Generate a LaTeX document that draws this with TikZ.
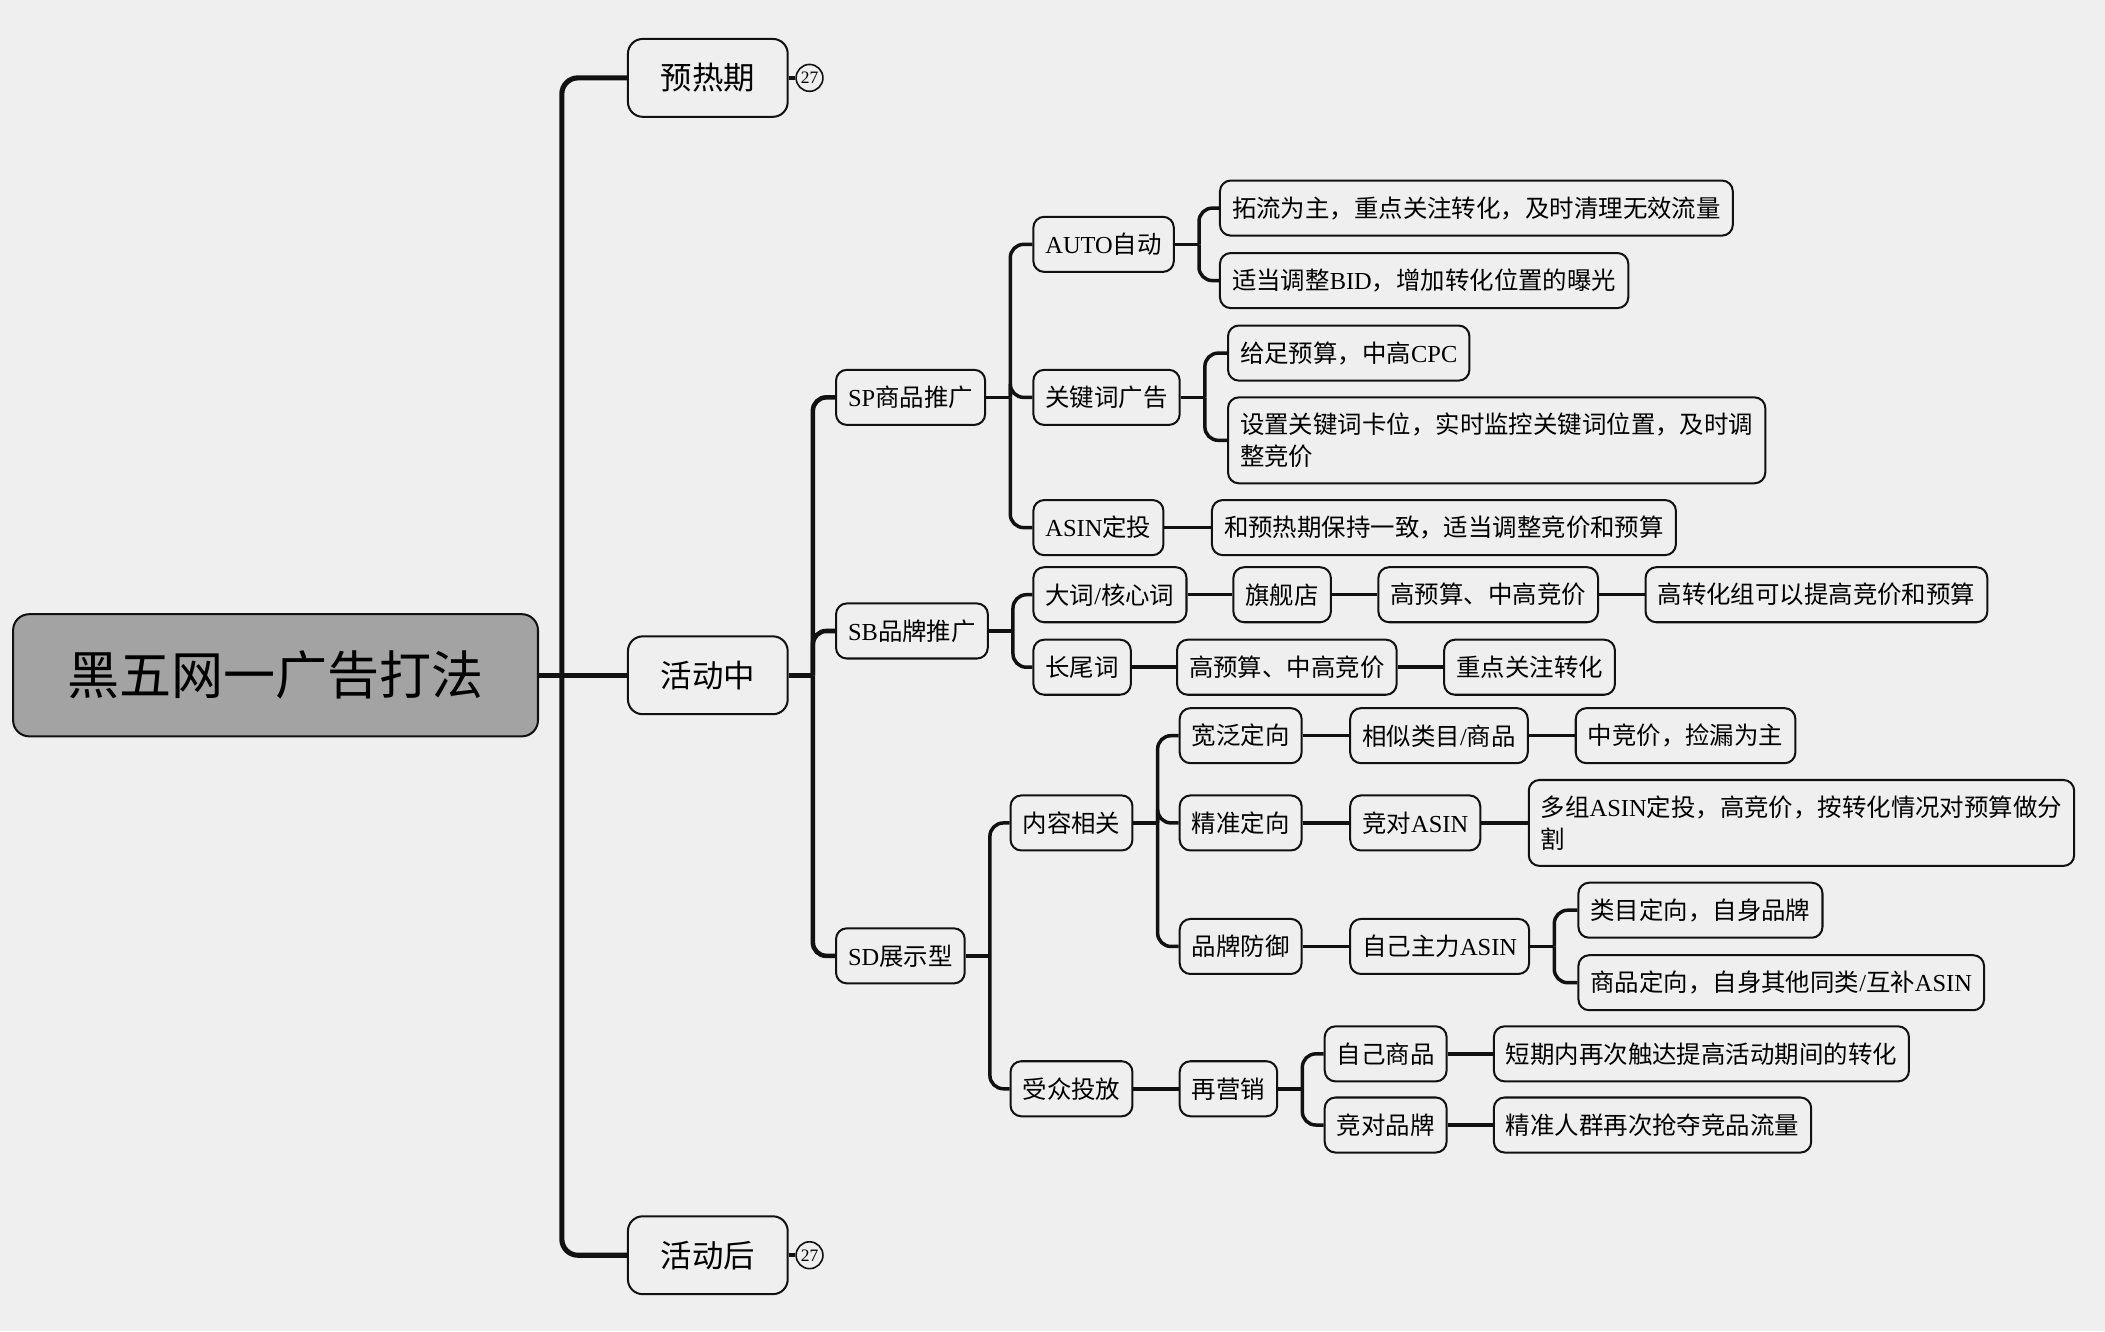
\documentclass[tikz,border=0pt]{standalone}
\usepackage{fontspec}
\setmainfont{Noto Sans CJK SC}
\newfontfamily\lt{Liberation Serif}
\definecolor{bg}{HTML}{EFEFEF}
\definecolor{rootfill}{HTML}{A3A3A3}
\definecolor{edge}{HTML}{111111}
\newcommand\fork[3]{%
  \draw[#1] (#2.east) -- ++(9pt,0) coordinate (#2-t);
  \foreach \c in {#3} {\draw[#1,rounded corners=5pt] (#2-t) |- (\c.west);}
}
\begin{document}
\begin{tikzpicture}[x=0.5pt,y=-0.5pt,
  box/.style={draw=edge, line width=0.75pt, fill=bg, rounded corners=4pt,
    font=\fontsize{9.1}{12}\selectfont, minimum height=20.5pt,
    inner xsep=4.5pt, inner ysep=2pt, anchor=west},
  lvone/.style={box, rounded corners=5.5pt, font=\fontsize{11.7}{14}\selectfont,
    minimum height=29pt, minimum width=59.5pt},
  two/.style={box, align=left, minimum height=32pt},
  badge/.style={circle, draw=edge, line width=0.6pt, fill=bg, minimum size=10pt,
    inner sep=0pt, font=\lt\fontsize{6.5}{7}\selectfont},
  ca/.style={draw=edge, line width=1.9pt},
  cb/.style={draw=edge, line width=1.7pt},
  cc/.style={draw=edge, line width=1.3pt}]
\fill[bg] (0,0) rectangle (1568,991.5);
\useasboundingbox (0,0) rectangle (1568,991.5);

% connectors first (drawn beneath nodes)
\coordinate (root-e) at (400,503);

% root and level 1
\node[box, fill=rootfill, rounded corners=6pt, minimum width=195.5pt, minimum height=45.5pt,
  font=\fontsize{19.4}{22}\selectfont] (root) at (9,503) {黑五网一广告打法};
\node[lvone] (pre) at (467,58) {预热期};
\node[lvone] (mid) at (467,503) {活动中};
\node[lvone] (post) at (467,935) {活动后};
\node[badge] (b1) at (603,58) {27};
\node[badge] (b2) at (603,935) {27};

% level 2
\node[box] (sp) at (622,296) {{\lt SP}商品推广};
\node[box] (sb) at (622,470) {{\lt SB}品牌推广};
\node[box] (sd) at (622,712) {{\lt SD}展示型};

% SP
\node[box] (auto) at (769,182) {{\lt AUTO}自动};
\node[box] (kw) at (769,296) {关键词广告};
\node[box] (asin) at (769,393) {{\lt ASIN}定投};
\node[box] (a1) at (908,155) {拓流为主，重点关注转化，及时清理无效流量};
\node[box] (a2) at (908,209) {适当调整{\lt BID}，增加转化位置的曝光};
\node[box] (k1) at (914,263) {给足预算，中高{\lt CPC}};
\node[two] (k2) at (914,328) {设置关键词卡位，实时监控关键词位置，及时调\\整竞价};
\node[box] (as1) at (902,393) {和预热期保持一致，适当调整竞价和预算};

% SB
\node[box] (bigw) at (769,443) {大词{\lt /}核心词};
\node[box] (flag) at (918,443) {旗舰店};
\node[box] (hba) at (1026,443) {高预算、中高竞价};
\node[box] (hc) at (1225,443) {高转化组可以提高竞价和预算};
\node[box] (longw) at (769,497) {长尾词};
\node[box] (hbb) at (876,497) {高预算、中高竞价};
\node[box] (focus) at (1075,497) {重点关注转化};

% SD
\node[box] (cont) at (752,613) {内容相关};
\node[box] (wide) at (878,548) {宽泛定向};
\node[box] (sim) at (1005,548) {相似类目{\lt /}商品};
\node[box] (midp) at (1173,548) {中竞价，捡漏为主};
\node[box] (prec) at (878,613) {精准定向};
\node[box] (comp) at (1005,613) {竞对{\lt ASIN}};
\node[two] (multi) at (1138,613) {多组{\lt ASIN}定投，高竞价，按转化情况对预算做分\\割};
\node[box] (brand) at (878,705) {品牌防御};
\node[box] (own) at (1005,705) {自己主力{\lt ASIN}};
\node[box] (o1) at (1175,678) {类目定向，自身品牌};
\node[box] (o2) at (1175,732) {商品定向，自身其他同类{\lt /}互补{\lt ASIN}};
\node[box] (aud) at (752,811) {受众投放};
\node[box] (remk) at (878,811) {再营销};
\node[box] (self) at (986,785) {自己商品};
\node[box] (rival) at (986,838) {竞对品牌};
\node[box] (r1) at (1112,785) {短期内再次触达提高活动期间的转化};
\node[box] (r2) at (1112,838) {精准人群再次抢夺竞品流量};

% connectors
\draw[ca] (root.east) -- ++(8.5pt,0) coordinate (root-t);
\draw[ca,rounded corners=6pt] (root-t) |- (pre.west);
\draw[ca,rounded corners=6pt] (root-t) |- (post.west);
\draw[ca] (root-t) -- (mid.west);
\draw[cc] (pre.east) -- (b1.west);
\draw[cc] (post.east) -- (b2.west);
\fork{cb}{mid}{sp,sb,sd}
\fork{cc}{sp}{auto,kw,asin}
\fork{cc}{auto}{a1,a2}
\fork{cc}{kw}{k1,k2}
\draw[cc] (asin.east) -- (as1.west);
\fork{cc}{sb}{bigw,longw}
\draw[cc] (bigw.east) -- (flag.west);
\draw[cc] (flag.east) -- (hba.west);
\draw[cc] (hba.east) -- (hc.west);
\draw[cc] (longw.east) -- (hbb.west);
\draw[cc] (hbb.east) -- (focus.west);
\fork{cc}{sd}{cont,aud}
\fork{cc}{cont}{wide,prec,brand}
\draw[cc] (wide.east) -- (sim.west);
\draw[cc] (sim.east) -- (midp.west);
\draw[cc] (prec.east) -- (comp.west);
\draw[cc] (comp.east) -- (multi.west);
\draw[cc] (brand.east) -- (own.west);
\fork{cc}{own}{o1,o2}
\draw[cc] (aud.east) -- (remk.west);
\fork{cc}{remk}{self,rival}
\draw[cc] (self.east) -- (r1.west);
\draw[cc] (rival.east) -- (r2.west);
\end{tikzpicture}
\end{document}
